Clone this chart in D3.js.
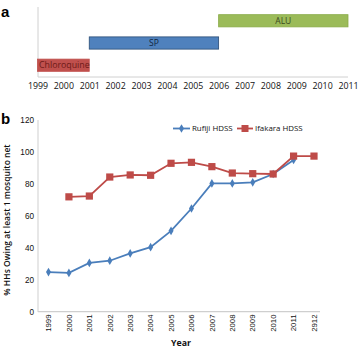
<!DOCTYPE html>
<html><head><meta charset="utf-8">
<script src="https://cdn.jsdelivr.net/npm/d3@7"></script>
<style>body{margin:0;background:#fff}svg{display:block;font-family:"Open Sans","Liberation Sans",sans-serif}</style>
</head><body><svg id="c" width="359" height="349"></svg>
<script>
// Panel a data
const drugYears = [1999,2000,2001,2002,2003,2004,2005,2006,2007,2008,2009,2010,2011];
const drugNames = ["ALU","SP","Chloroquine"];
const drugStart = [2006,2001,1999];
const drugEnd = [2011,2006,2001];
const drugFill = ["#9BBB59","#4F81BD","#C0504D"];
const drugStroke = ["#8aab48","#2c4d75","#C0504D"];
const drugText = ["#3a4a1e","#10253f","#6e1a18"];

// Panel b data
const years = ["1999","2000","2001","2002","2003","2004","2005","2006","2007","2008","2009","2010","2011","2912"];
const rufiji = [24.8,24.3,30.5,31.9,36.5,40.4,50.6,64.6,80.3,80.3,81.0,86.2,95.0,null];
const ifakara = [null,71.9,72.4,84.3,85.6,85.4,92.9,93.5,90.8,86.8,86.4,86.2,97.4,97.4];
const yTicks = [0,20,40,60,80,100,120];

const svg = d3.select("#c");

// ---------- Panel a ----------
svg.append("text").attr("x",1).attr("y",17).attr("font-size",15).attr("font-weight","bold")
  .attr("font-family","Liberation Sans, Arial, sans-serif").text("a");
const xa = d3.scaleLinear().domain([1999,2011]).range([37.5,348]);
const ya = d3.scaleBand().domain(drugNames).range([8,78]).paddingInner(0.45).paddingOuter(0.3);
const ga = svg.append("g");
ga.append("line").attr("x1",38).attr("x2",38).attr("y1",7).attr("y2",77).attr("stroke","#d0d0d0");
ga.append("line").attr("x1",38).attr("x2",348).attr("y1",77).attr("y2",77).attr("stroke","#d0d0d0");
drugNames.forEach((n,i)=>{
  ga.append("rect").attr("x",xa(drugStart[i])).attr("width",xa(drugEnd[i])-xa(drugStart[i]))
    .attr("y",ya(n)).attr("height",ya.bandwidth())
    .attr("fill",drugFill[i]).attr("stroke",drugStroke[i]).attr("stroke-width",0.8);
  const tx = n==="Chloroquine" ? xa(drugStart[i])+1.5 : (xa(drugStart[i])+xa(drugEnd[i]))/2;
  ga.append("text").attr("x",tx).attr("y",ya(n)+ya.bandwidth()/2+3.2)
    .attr("text-anchor", n==="Chloroquine"?"start":"middle")
    .attr("font-size",n==="Chloroquine"?8.8:8.5).attr("fill",drugText[i]).text(n);
});
const axA = d3.axisBottom(xa).tickValues(drugYears).tickFormat(d3.format("d")).tickSize(0);
const gaxA = svg.append("g").attr("transform","translate(0,80)").call(axA);
gaxA.select(".domain").remove();
gaxA.selectAll("text").attr("font-size",8.8).attr("fill","#111").attr("font-family","Open Sans, sans-serif");

// ---------- Panel b ----------
svg.append("text").attr("x",1).attr("y",124).attr("font-size",15).attr("font-weight","bold")
  .attr("font-family","Liberation Sans, Arial, sans-serif").text("b");
const xb = d3.scalePoint().domain(years).range([48.5,314]);
const yb = d3.scaleLinear().domain([0,120]).range([311.7,120]);
const gb = svg.append("g");
gb.append("line").attr("x1",38).attr("x2",38).attr("y1",120).attr("y2",312).attr("stroke","#cfcfcf");
gb.append("line").attr("x1",38).attr("x2",320).attr("y1",311.7).attr("y2",311.7).attr("stroke","#cfcfcf").attr("stroke-width",1.2);
const axY = d3.axisLeft(yb).tickValues(yTicks).tickSize(0).tickPadding(4);
const gy = svg.append("g").attr("transform","translate(38,0)").call(axY);
gy.select(".domain").remove();
gy.selectAll("text").attr("font-size",8.2).attr("fill","#111");
const axX = d3.axisBottom(xb).tickSize(0).tickPadding(0);
const gx = svg.append("g").attr("transform","translate(0,312)").call(axX);
gx.select(".domain").remove();
gx.selectAll(".tick").attr("transform","translate(0,0)");
gx.selectAll("text").attr("font-size",7.8).attr("fill","#111")
  .attr("text-anchor","end").attr("dy","0.35em").attr("y",0).attr("x",-2.5)
  .attr("transform",d=>`translate(${xb(d)},0) rotate(-90)`);

svg.append("text").attr("x",181).attr("y",346).attr("text-anchor","middle").attr("font-size",8.8)
  .attr("font-weight","bold").attr("fill","#111").text("Year");
svg.append("text").attr("transform","translate(10,220) rotate(-90)").attr("text-anchor","middle")
  .attr("font-size",8.5).attr("font-weight","600").attr("fill","#111").text("% HHs Owing at least 1 mosquito net");

const line = d3.line().defined(d=>d[1]!=null).x(d=>xb(d[0])).y(d=>yb(d[1]));
const blue = "#4A7EBB", red = "#BE4B48";
gb.append("path").datum(years.map((y,i)=>[y,rufiji[i]])).attr("d",line).attr("fill","none").attr("stroke",blue).attr("stroke-width",1.8);
gb.append("path").datum(years.map((y,i)=>[y,ifakara[i]])).attr("d",line).attr("fill","none").attr("stroke",red).attr("stroke-width",1.8);
const diamond = d3.symbol().type(d3.symbolDiamond).size(22);
gb.selectAll(".ruf").data(years.map((y,i)=>[y,rufiji[i]]).filter(d=>d[1]!=null)).join("path")
  .attr("d",diamond).attr("transform",d=>`translate(${xb(d[0])},${yb(d[1])})`).attr("fill",blue);
gb.selectAll(".ifa").data(years.map((y,i)=>[y,ifakara[i]]).filter(d=>d[1]!=null)).join("rect")
  .attr("x",d=>xb(d[0])-3.6).attr("y",d=>yb(d[1])-3.6).attr("width",7.2).attr("height",7.2).attr("fill",red);

// legend
const lg = svg.append("g");
lg.append("line").attr("x1",173).attr("x2",190).attr("y1",128.5).attr("y2",128.5).attr("stroke",blue).attr("stroke-width",1.8);
lg.append("path").attr("d",diamond).attr("transform","translate(181.5,128.5)").attr("fill",blue);
lg.append("text").attr("x",192).attr("y",131.3).attr("font-size",7.9).attr("fill","#111").text("Rufiji HDSS");
lg.append("line").attr("x1",237).attr("x2",253).attr("y1",128.5).attr("y2",128.5).attr("stroke",red).attr("stroke-width",1.8);
lg.append("rect").attr("x",241.5).attr("y",125).attr("width",7).attr("height",7).attr("fill",red);
lg.append("text").attr("x",255).attr("y",131.3).attr("font-size",7.9).attr("fill","#111").text("Ifakara HDSS");
</script></body></html>
